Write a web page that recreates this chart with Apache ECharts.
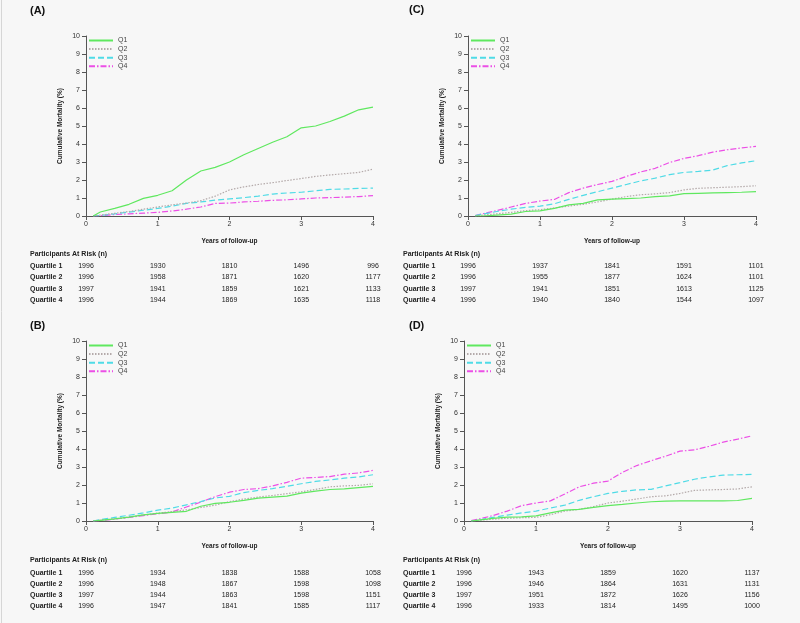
<!DOCTYPE html>
<html>
<head>
<meta charset="utf-8">
<script src="https://cdn.jsdelivr.net/npm/echarts@6/dist/echarts.min.js"></script>
<style>
html,body{margin:0;padding:0;background:#f7f7f7;}
#c{width:800px;height:623px;}
</style>
</head>
<body>
<div id="c"></div>
<script>
// ---- data ----
const YEARS = [0.1,0.2,0.4,0.6,0.8,1.0,1.2,1.4,1.6,1.8,2.0,2.2,2.4,2.6,2.8,3.0,3.2,3.4,3.6,3.8,4.0];
const SERIES_NAMES = ['Q1','Q2','Q3','Q4'];
const PANEL_LABELS = ['(A)','(B)','(C)','(D)'];
const RISK_YEARS = [0,1,2,3,4];
const ROW_LABELS = ['Quartile 1','Quartile 2','Quartile 3','Quartile 4'];

// Panel A
const A_Q1 = [0,0.22,0.42,0.65,0.98,1.15,1.40,2.0,2.5,2.7,3.0,3.4,3.75,4.1,4.4,4.9,5.0,5.25,5.55,5.9,6.05];
const A_Q2 = [0,0.05,0.15,0.25,0.38,0.50,0.62,0.72,0.85,1.1,1.45,1.62,1.75,1.85,1.97,2.08,2.2,2.28,2.35,2.42,2.6];
const A_Q3 = [0,0.03,0.12,0.22,0.32,0.42,0.55,0.7,0.78,0.88,0.95,1.02,1.1,1.22,1.28,1.32,1.4,1.48,1.5,1.53,1.55];
const A_Q4 = [0,0.02,0.08,0.12,0.16,0.2,0.28,0.38,0.5,0.7,0.72,0.78,0.82,0.87,0.9,0.95,1.0,1.02,1.05,1.08,1.13];
// Panel B
const B_Q1 = [0,0.04,0.12,0.22,0.34,0.42,0.48,0.54,0.82,0.98,1.04,1.15,1.27,1.33,1.38,1.55,1.66,1.75,1.78,1.85,1.92];
const B_Q2 = [0,0.05,0.12,0.22,0.33,0.44,0.52,0.62,0.75,0.88,1.08,1.22,1.33,1.42,1.52,1.62,1.75,1.9,1.95,1.98,2.07];
const B_Q3 = [0,0.08,0.2,0.32,0.45,0.6,0.72,0.9,1.08,1.28,1.37,1.58,1.7,1.8,1.93,2.07,2.2,2.28,2.38,2.45,2.57];
const B_Q4 = [0,0.03,0.1,0.2,0.3,0.4,0.5,0.78,1.05,1.35,1.6,1.75,1.8,1.95,2.15,2.38,2.42,2.47,2.6,2.67,2.81];
// Panel C
const C_Q1 = [0,0,0.05,0.1,0.25,0.28,0.42,0.62,0.7,0.9,0.94,0.97,1.0,1.08,1.12,1.24,1.26,1.28,1.3,1.32,1.35];
const C_Q2 = [0,0.05,0.12,0.2,0.3,0.35,0.45,0.55,0.65,0.78,0.94,1.08,1.18,1.23,1.3,1.45,1.54,1.57,1.6,1.63,1.68];
const C_Q3 = [0.02,0.1,0.25,0.38,0.48,0.55,0.68,0.92,1.15,1.35,1.55,1.75,1.95,2.1,2.3,2.42,2.48,2.55,2.8,2.95,3.07];
const C_Q4 = [0.02,0.12,0.3,0.5,0.7,0.83,0.92,1.3,1.55,1.75,1.92,2.2,2.45,2.65,2.97,3.2,3.35,3.55,3.68,3.78,3.87];
// Panel D
const D_Q1 = [0,0.05,0.15,0.22,0.23,0.28,0.45,0.6,0.65,0.76,0.85,0.92,1.0,1.07,1.1,1.12,1.12,1.12,1.12,1.14,1.26];
const D_Q2 = [0,0.04,0.1,0.15,0.18,0.2,0.35,0.55,0.65,0.8,1.0,1.1,1.22,1.35,1.4,1.53,1.7,1.73,1.75,1.78,1.9];
const D_Q3 = [0,0.05,0.2,0.33,0.45,0.55,0.72,0.88,1.15,1.35,1.53,1.65,1.73,1.76,1.95,2.13,2.32,2.45,2.55,2.57,2.59];
const D_Q4 = [0.02,0.1,0.3,0.55,0.85,1.0,1.12,1.5,1.9,2.1,2.22,2.7,3.08,3.35,3.6,3.88,3.95,4.15,4.38,4.55,4.73];

// At-risk tables
const RISK_A = [[1996,1930,1810,1496,996],[1996,1958,1871,1620,1177],[1997,1941,1859,1621,1133],[1996,1944,1869,1635,1118]];
const RISK_B = [[1996,1934,1838,1588,1058],[1996,1948,1867,1598,1098],[1997,1944,1863,1598,1151],[1996,1947,1841,1585,1117]];
const RISK_C = [[1996,1937,1841,1591,1101],[1996,1955,1877,1624,1101],[1997,1941,1851,1613,1125],[1996,1940,1840,1544,1097]];
const RISK_D = [[1996,1943,1859,1620,1137],[1996,1946,1864,1631,1131],[1997,1951,1872,1626,1156],[1996,1933,1814,1495,1000]];

// ---- layout / styling ----
const PANEL_DATA = [[A_Q1,A_Q2,A_Q3,A_Q4],[B_Q1,B_Q2,B_Q3,B_Q4],[C_Q1,C_Q2,C_Q3,C_Q4],[D_Q1,D_Q2,D_Q3,D_Q4]];
const PANEL_RISK = [RISK_A,RISK_B,RISK_C,RISK_D];
const LAYOUT = [
  {grid:{left:86,top:36,width:287,height:180}, label:{left:30,top:5}, tableX:30, tableY:255},
  {grid:{left:86,top:341,width:287,height:180}, label:{left:30,top:320}, tableX:30, tableY:561.5},
  {grid:{left:468,top:36,width:288,height:180}, label:{left:409,top:4}, tableX:403, tableY:255},
  {grid:{left:464,top:341,width:288,height:180}, label:{left:409,top:320}, tableX:403, tableY:561.5}
];
const STYLES = [
  {color:'#5fe85f', type:'solid'},
  {color:'#b4aaaa', type:[1.5,1.5]},
  {color:'#4fdbe6', type:[6,3]},
  {color:'#ec4fe6', type:[6,2,1.5,2]}
];
const FONT = 'Liberation Sans, Arial, sans-serif';

const chart = echarts.init(document.getElementById('c'), null, {renderer:'canvas'});

const grids=[], xAxes=[], yAxes=[], series=[], legends=[], titles=[];
LAYOUT.forEach((L,i)=>{
  grids.push(Object.assign({}, L.grid));
  xAxes.push({
    type:'value', gridIndex:i, min:0, max:4, interval:1,
    name:'Years of follow-up', nameLocation:'middle', nameGap:22,
    nameTextStyle:{fontFamily:FONT, fontSize:6.5, fontWeight:'bold', color:'#222'},
    axisLine:{show:true, onZero:false, lineStyle:{color:'#555', width:1}},
    axisTick:{show:true, length:4, lineStyle:{color:'#555'}},
    axisLabel:{fontFamily:FONT, fontSize:7, color:'#333', margin:5},
    splitLine:{show:false}
  });
  yAxes.push({
    type:'value', gridIndex:i, min:0, max:10, interval:1,
    name:'Cumulative Mortality (%)', nameLocation:'middle', nameGap:22,
    nameTextStyle:{fontFamily:FONT, fontSize:6.5, fontWeight:'bold', color:'#222'},
    axisLine:{show:true, lineStyle:{color:'#555', width:1}},
    axisTick:{show:true, length:4, lineStyle:{color:'#555'}},
    axisLabel:{fontFamily:FONT, fontSize:7, color:'#333', margin:6},
    splitLine:{show:false}
  });
  PANEL_DATA[i].forEach((vals,k)=>{
    series.push({
      name:SERIES_NAMES[k], type:'line', xAxisIndex:i, yAxisIndex:i,
      data:YEARS.map((t,j)=>[t, vals[j]]),
      showSymbol:false, symbol:'none', smooth:false,
      lineStyle:{color:STYLES[k].color, width:1.2, type:STYLES[k].type},
      itemStyle:{color:STYLES[k].color},
      emphasis:{disabled:true}, silent:true, z:10-k
    });
  });
  legends.push({
    orient:'vertical', left:L.grid.left+2, top:L.grid.top+1,
    padding:0, itemWidth:24, itemHeight:6, itemGap:1.6,
    itemStyle:{opacity:0, borderWidth:0},
    textStyle:{fontFamily:FONT, fontSize:7, color:'#444', lineHeight:6},
    data:SERIES_NAMES, selectedMode:false
  });
  titles.push({text:PANEL_LABELS[i], left:L.label.left, top:L.label.top, padding:0,
    textStyle:{fontFamily:FONT, fontSize:11, fontWeight:'bold', color:'#111'}});
});

chart.setOption({
  backgroundColor:'#f7f7f7',
  animation:false,
  title:titles, grid:grids, xAxis:xAxes, yAxis:yAxes, series:series, legend:legends
});

// ---- at-risk tables positioned from axis scales ----
const graphics = [{type:'line', shape:{x1:1.5,y1:0,x2:1.5,y2:623}, style:{stroke:'#d6d6d6', lineWidth:1}, silent:true}];
const ROW_H = 11.2;
LAYOUT.forEach((L,i)=>{
  graphics.push({type:'text', left:L.tableX, top:L.tableY-4.5, silent:true,
    style:{text:'Participants At Risk (n)', font:'bold 7px '+FONT, fill:'#222'}});
  PANEL_RISK[i].forEach((row,r)=>{
    const y = L.tableY + ROW_H*(r+1);
    graphics.push({type:'text', x:L.tableX, y:y, silent:true,
      style:{text:ROW_LABELS[r], font:'bold 7px '+FONT, fill:'#222', textAlign:'left', textVerticalAlign:'middle'}});
    row.forEach((n,c)=>{
      const px = chart.convertToPixel({xAxisIndex:i}, RISK_YEARS[c]);
      graphics.push({type:'text', x:px, y:y, silent:true,
        style:{text:String(n), font:'7px '+FONT, fill:'#222', textAlign:'center', textVerticalAlign:'middle'}});
    });
  });
});
chart.setOption({graphic:graphics});
</script>
</body>
</html>
